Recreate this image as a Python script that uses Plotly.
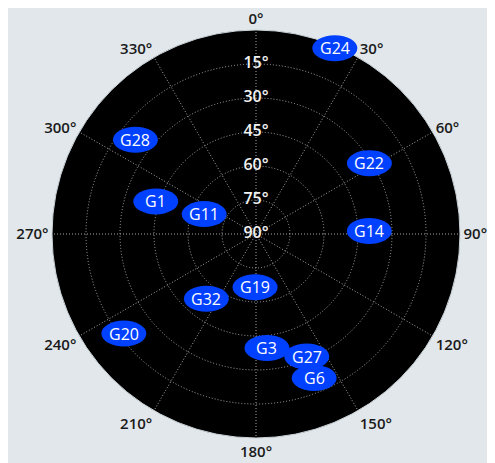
import numpy as np
import plotly.graph_objects as go

# Satellite data: azimuth (deg, clockwise from north) and elevation (deg)
sats = ["G24", "G28", "G22", "G1", "G11", "G14", "G19", "G32", "G20", "G3", "G27", "G6"]
azimuth = [23, 308, 58, 288, 291, 88.5, 181, 217.5, 233, 174.5, 157.5, 158]
elevation = [1, 22.5, 31, 43.5, 65.5, 40, 66.5, 54, 17, 39.5, 31.5, 21.5]

# Axis ticks
angular_ticks = [0, 30, 60, 90, 120, 150, 180, 210, 240, 270, 300, 330]
angular_labels = ["0°", "30°", "60°", "90°", "120°", "150°", "180°",
                  "210°", "240°", "270°", "300°", "330°"]
radial_ticks = [15, 30, 45, 60, 75, 90]
radial_labels = ["15°", "30°", "45°", "60°", "75°", "90°"]

BLUE = "#0040ff"
BG = "#e1e7eb"
GRID = "#a8a8a8"
FONT = "Open Sans"

fig = go.Figure()

# radial tick labels drawn on the 0° spoke
fig.add_trace(go.Scatterpolar(
    r=radial_ticks, theta=[0] * len(radial_ticks), mode="text",
    text=radial_labels, textposition="middle center",
    textfont=dict(family=FONT, size=16, color="#f2f2f2", weight=600),
    hoverinfo="skip", showlegend=False,
))

# Cartesian overlay (projection of the polar data) used to anchor the ellipses
az_rad = np.radians(azimuth)
dist = 90 - np.array(elevation)
xs = dist * np.sin(az_rad)
ys = dist * np.cos(az_rad)
fig.add_trace(go.Scatter(x=xs, y=ys, mode="markers", marker=dict(opacity=0),
                         hoverinfo="skip", showlegend=False))

shapes = []
annotations = []
for name, x, y in zip(sats, xs, ys):
    shapes.append(dict(type="circle", xref="x", yref="y",
                       xsizemode="pixel", ysizemode="pixel",
                       xanchor=x, yanchor=y, x0=-22.5, x1=22.5, y0=-13, y1=13,
                       fillcolor=BLUE, line=dict(width=0), layer="above"))
    annotations.append(dict(x=x, y=y, xref="x", yref="y", text=name,
                            showarrow=False,
                            font=dict(family=FONT, size=16, color="white")))

fig.update_layout(
    width=484, height=462,
    margin=dict(l=44, r=32, t=22, b=32),
    paper_bgcolor=BG,
    plot_bgcolor="rgba(0,0,0,0)",
    showlegend=False,
    polar=dict(
        bgcolor="black",
        domain=dict(x=[0, 1], y=[0, 1]),
        angularaxis=dict(
            rotation=90, direction="clockwise",
            tickmode="array", tickvals=angular_ticks, ticktext=angular_labels,
            tickfont=dict(family=FONT, size=15, color="#1a1a1a", weight=600),
            showgrid=True, gridcolor=GRID, griddash="1px,2px", gridwidth=1,
            showline=True, linecolor="#c9d3d8", linewidth=1,
            ticks="", ticklen=0,
        ),
        radialaxis=dict(
            range=[90, 0], tickmode="array", tickvals=radial_ticks,
            showticklabels=False, ticks="", showline=False,
            showgrid=True, gridcolor=GRID, griddash="1px,2px", gridwidth=1,
        ),
    ),
    xaxis=dict(domain=[0, 1], range=[-90, 90], visible=False, fixedrange=True),
    yaxis=dict(domain=[0, 1], range=[-90, 90], visible=False, fixedrange=True),
    shapes=shapes,
    annotations=annotations,
)

fig.write_html("out.html")
